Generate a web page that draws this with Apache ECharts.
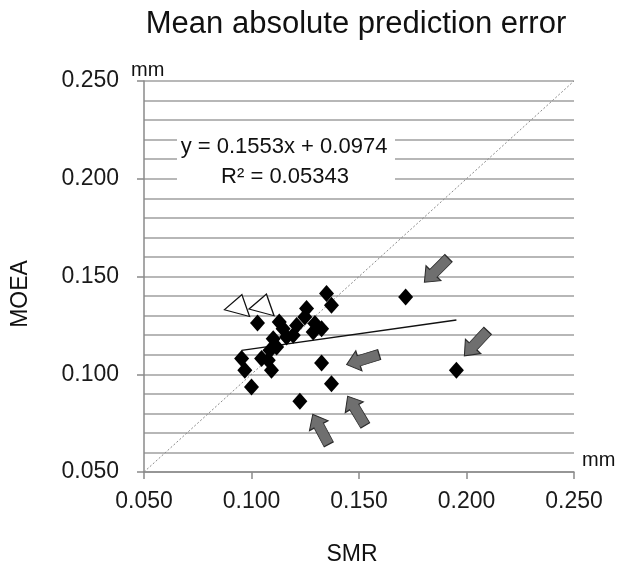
<!DOCTYPE html>
<html>
<head>
<meta charset="utf-8">
<script src="https://cdn.jsdelivr.net/npm/echarts@6/dist/echarts.min.js"></script>
<style>html,body{margin:0;padding:0;background:#fff}#c{width:620px;height:567px}</style>
</head>
<body>
<div id="c"></div>
<script>
// SMR (x) vs MOEA (y), mm
var smrValues = [0.1349,0.1372,0.1028,0.1256,0.1248,0.1129,0.1147,0.1210,0.1295,0.1326,0.1287,0.1194,0.1163,0.1101,0.1117,0.1086,0.0954,0.1047,0.1078,0.0969,0.1093,0.1000,0.1326,0.1372,0.1225,0.1717,0.1953];
var moeaValues = [0.1413,0.1353,0.1262,0.1336,0.1293,0.1267,0.1233,0.1250,0.1259,0.1233,0.1216,0.1199,0.1191,0.1182,0.1139,0.1123,0.1080,0.1080,0.1071,0.1020,0.1020,0.0935,0.1058,0.0952,0.0862,0.1395,0.1020];
// hollow triangle markers
var triSmr = [0.0944,0.1058];
var triMoea = [0.1360,0.1363];
// annotation arrows (centre in data units, rotation in degrees)
var arrowSmr = [0.1860,0.2044,0.1518,0.1488,0.1322];
var arrowMoea = [0.1532,0.1158,0.1075,0.0813,0.0718];
var arrowAngle = [135,137,107,31,28];
// regression
var slope = 0.1553, intercept = 0.0974;
var eqText = 'y = 0.1553x + 0.0974', r2Text = 'R² = 0.05343';
var axisMin = 0.05, axisMax = 0.25, axisStep = 0.05;

var pts = smrValues.map(function(x,i){return [x, moeaValues[i]];});
var tris = triSmr.map(function(x,i){return [x, triMoea[i]];});
var arrows = arrowSmr.map(function(x,i){return {value:[x, arrowMoea[i]], symbolRotate: arrowAngle[i]};});
var xmin = Math.min.apply(null, smrValues), xmax = Math.max.apply(null, smrValues);
var trend = [[xmin, slope*xmin+intercept],[xmax, slope*xmax+intercept]];

var FONT = '"Liberation Sans", Arial, sans-serif';
var chart = echarts.init(document.getElementById('c'), null, {renderer:'canvas'});
chart.setOption({
  animation:false,
  backgroundColor:'#fff',
  grid:{left:144, right:46, top:81, bottom:95, containLabel:false},
  xAxis:{
    type:'value', min:axisMin, max:axisMax, interval:axisStep,
    axisLine:{lineStyle:{color:'#8a8a8a', width:1.5}},
    axisTick:{show:true, length:7, lineStyle:{color:'#8a8a8a', width:1.5}},
    splitLine:{show:false},
    axisLabel:{formatter:function(v){return v.toFixed(3);}, fontSize:23, color:'#1a1a1a', fontFamily:FONT, margin:18}
  },
  yAxis:{
    type:'value', min:axisMin, max:axisMax, interval:axisStep,
    axisLine:{show:true, lineStyle:{color:'#8a8a8a', width:1.5}},
    axisTick:{show:true, length:7, lineStyle:{color:'#8a8a8a', width:1.5}},
    splitLine:{show:true, lineStyle:{color:'#a0a0a0', width:1.5}},
    minorTick:{show:false, splitNumber:5},
    minorSplitLine:{show:true, lineStyle:{color:'#a0a0a0', width:1.5}},
    axisLabel:{formatter:function(v){return v.toFixed(3);}, fontSize:23, color:'#1a1a1a', fontFamily:FONT, margin:25}
  },
  graphic:[
    {type:'text', x:356, y:24, z:100, style:{text:'Mean absolute prediction error', font:'31px '+FONT, fill:'#111', textAlign:'center', textVerticalAlign:'middle'}},
    {type:'text', x:9, y:294, rotation:Math.PI/2, z:100, style:{text:'MOEA', font:'23px '+FONT, fill:'#111', textAlign:'center', textVerticalAlign:'top'}},
    {type:'text', x:352, y:555, z:100, style:{text:'SMR', font:'23px '+FONT, fill:'#111', textAlign:'center', textVerticalAlign:'middle'}},
    {type:'text', x:131, y:70, z:100, style:{text:'mm', font:'20px '+FONT, fill:'#111', textAlign:'left', textVerticalAlign:'middle'}},
    {type:'text', x:582, y:460, z:100, style:{text:'mm', font:'20px '+FONT, fill:'#111', textAlign:'left', textVerticalAlign:'middle'}},
    {type:'rect', shape:{x:177, y:129, width:218, height:60}, z:100, style:{fill:'#fff'}},
    {type:'text', x:284, y:147, z:101, style:{text:eqText, font:'22px '+FONT, fill:'#111', textAlign:'center', textVerticalAlign:'middle'}},
    {type:'text', x:285, y:177, z:101, style:{text:r2Text, font:'22px '+FONT, fill:'#111', textAlign:'center', textVerticalAlign:'middle'}}
  ],
  series:[
    {type:'line', data:[[axisMin,axisMin],[axisMax,axisMax]], symbol:'none', silent:true, z:1,
     lineStyle:{color:'#8a8a8a', width:1, type:[2,2]}},
    {type:'line', data:trend, symbol:'none', z:3, lineStyle:{color:'#111', width:1.5}},
    {type:'scatter', data:pts, symbol:'diamond', symbolSize:[15,17], z:4,
     itemStyle:{color:'#000', opacity:1}},
    {type:'scatter', data:tris, symbol:'triangle', symbolSize:[26,19], symbolRotate:-15, z:4,
     itemStyle:{color:'#fff', borderColor:'#111', borderWidth:1.2, opacity:1}},
    {type:'scatter', data:arrows, symbol:'path://M10,0 L20,12 L15,12 L15,32 L5,32 L5,12 L0,12 Z', symbolSize:[21,34], z:5,
     itemStyle:{color:'#6f6f6f', borderColor:'#2a2a2a', borderWidth:1, opacity:1}}
  ]
});
</script>
</body>
</html>
